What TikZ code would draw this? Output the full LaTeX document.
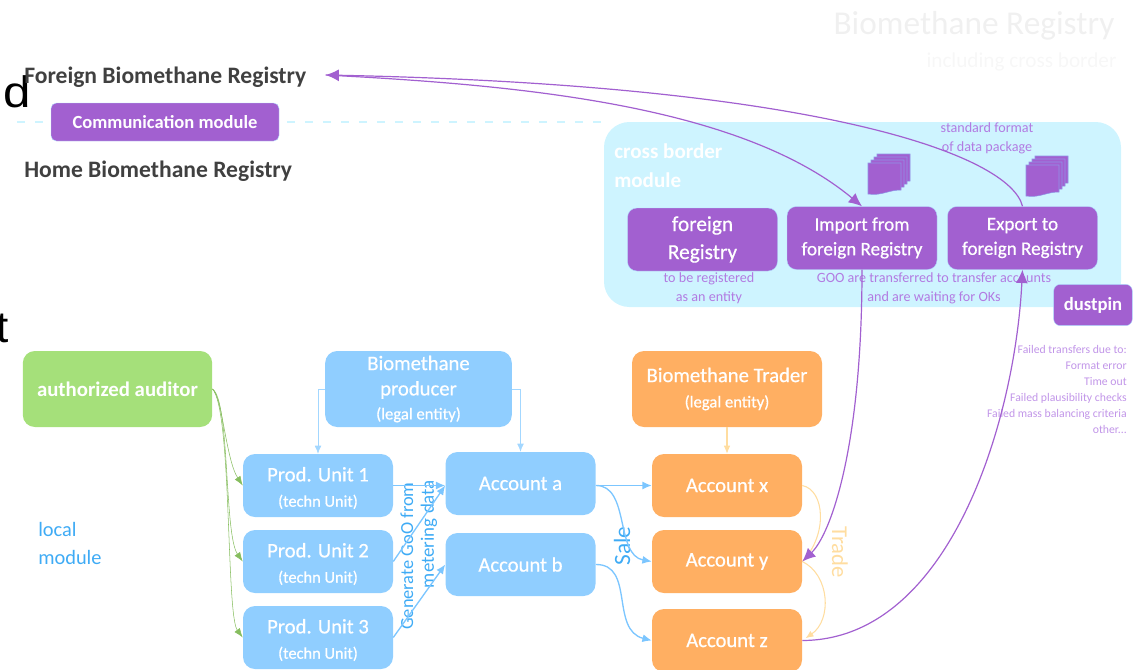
\documentclass[tikz,border=0pt]{standalone}
\usepackage{fontspec}
\setmainfont{Carlito}
\newfontfamily\arialfont{Liberation Sans}
\newfontfamily\semifont[FakeBold=0.6]{Carlito}
\usepackage{tikz}
\usetikzlibrary{arrows.meta}
\definecolor{regpurple}{HTML}{A260D0}
\definecolor{notepurple}{HTML}{B27BE2}
\definecolor{regblue}{HTML}{90CEFF}
\definecolor{linkblue}{HTML}{7CC6FF}
\definecolor{textblue}{HTML}{3FABF5}
\definecolor{regorange}{HTML}{FFAF62}
\definecolor{linkorange}{HTML}{FFDDA0}
\definecolor{reggreen}{HTML}{A5E07A}
\definecolor{linkgreen}{HTML}{86BD5E}
\definecolor{panelcyan}{HTML}{CEF4FF}
\definecolor{headgrey}{HTML}{404040}
\tikzset{
  box/.style={rounded corners=9pt,text=white,align=center,inner sep=0pt,minimum width=112.5pt,minimum height=47.25pt,font=\semifont\fontsize{15.5}{19}\selectfont},
  bluebox/.style={box,fill=regblue},
  orangebox/.style={box,fill=regorange},
  purplebox/.style={box,fill=regpurple,draw=linkblue!60,line width=.3pt,rounded corners=7pt,font=\semifont\fontsize{14.3}{18.5}\selectfont},
  heading/.style={inner sep=0pt,text=headgrey,align=flush left,font=\bfseries\fontsize{17.7}{21}\selectfont},
  note/.style={inner sep=0pt,text=notepurple,align=center,font=\fontsize{10.6}{14.2}\selectfont},
  bluelink/.style={-{Latex[length=7pt,width=6pt]},linkblue,line width=1pt},
  thinblue/.style={-{Latex[length=6pt,width=5pt]},linkblue!70,line width=.5pt},
  greenlink/.style={-{Latex[length=7pt,width=5pt]},linkgreen,line width=.4pt},
  orangelink/.style={-{Latex[length=6pt,width=5pt]},linkorange,line width=.8pt},
  purplelink/.style={-{Latex[length=10pt,width=9pt]},regpurple,line width=.9pt},
  docstack/.pic={
    \foreach \i in {3,2,1,0} {
      \draw[fill=regpurple,draw=linkblue!50!regpurple,line width=.4pt,shift={(\i*3,-\i*3)}]
        (0,0) -- (33,0) -- (33,27) .. controls (20,27) and (14,33) .. (0,31) -- cycle;
    }
  }
}
\begin{document}
\begin{tikzpicture}[x=.75pt,y=-.75pt]
  \clip (0,0) rectangle (1136,669);
  % top part
  \node at (974,26) [inner sep=0pt,text=black!6,font=\fontsize{25}{28}\selectfont] (title) {Biomethane Registry};
  \node at (1021.5,62) [inner sep=0pt,text=black!3,font=\fontsize{15.9}{18}\selectfont] (subtitle) {including cross border};
  \node at (3,107) [anchor=base west,inner sep=0pt,xscale=1.12,font=\arialfont\fontsize{33}{33}\selectfont] (cutd) {d};
  \node at (-4,342) [anchor=base west,inner sep=0pt,font=\arialfont\fontsize{33}{33}\selectfont] (cutt) {t};
  \node at (24,75) [anchor=west,heading,text width=225.75pt] (foreignreg) {\rule{0pt}{16pt}Foreign Biomethane Registry};
  \node at (24,171) [anchor=west,heading] (homereg) {Home Biomethane Registry};
  \coordinate (dashL) at (17,122);
  \node at (862.5,214.5) [fill=panelcyan,rounded corners=19pt,minimum width=387.75pt,minimum height=138.75pt] (xborder) {};
  \draw[panelcyan,line width=1.8pt,dash pattern=on 6pt off 7.5pt] (dashL) -- (xborder.north west |- dashL);
  \node at (165,122) [box,fill=regpurple,draw=linkblue!60,line width=.3pt,rounded corners=4pt,minimum width=171pt,minimum height=28.5pt,font=\bfseries\fontsize{13.9}{16}\selectfont] (comm) {Communication module};
  \node at (614,166) [anchor=west,inner sep=0pt,text=white,align=left,font=\bfseries\fontsize{15.8}{21.5}\selectfont] (xborderlabel) {cross border\\module};
  \node at (702.5,239.5) [purplebox,font=\semifont\fontsize{16}{21}\selectfont] (foreignbox) {foreign\\Registry};
  \node at (862,238) [purplebox] (importbox) {Import from\\foreign Registry};
  \node at (1022.5,238) [purplebox] (exportbox) {Export to\\foreign Registry};
  \node at (1093,305) [purplebox,rounded corners=5pt,minimum width=59pt,minimum height=31pt,font=\bfseries\fontsize{14}{18}\selectfont] (dustpin) {dustpin};
  \pic at (868,163) {docstack};
  \pic at (1026,165) {docstack};
  \node at (987,138.5) [note] (format) {standard format\\of data package};
  \node at (709,288.5) [note] (entity) {to be registered\\as an entity};
  \node at (934,288.5) [note] (waiting) {GOO are transferred to transfer accounts\\and are waiting for OKs};
  \node at (1127,389) [anchor=east,inner sep=0pt,text=notepurple!80,align=right,font=\fontsize{8.8}{12}\selectfont] (failed) {Failed transfers due to:\\Format error\\Time out\\Failed plausibility checks\\Failed mass balancing criteria\\other...};
  % local part
  \node at (38,543) [anchor=west,inner sep=0pt,text=textblue,align=left,font=\fontsize{15.3}{21}\selectfont] (localmodule) {local\\module};
  \node at (117.5,389) [box,fill=reggreen,minimum width=142pt,minimum height=57pt,font=\bfseries\fontsize{15.6}{19}\selectfont] (auditor) {authorized auditor};
  \node at (418.5,389) [bluebox,minimum width=140pt,minimum height=57pt] (producer) {Biomethane\\producer\\[-1pt]{\fontsize{12.5}{14}\selectfont(legal entity)}};
  \node at (727,389) [orangebox,minimum width=142.5pt,minimum height=57pt] (trader) {Biomethane Trader\\{\fontsize{12.5}{16}\selectfont(legal entity)}};
  \foreach \name/\ypos/\num in {unitone/485.5/1,unittwo/561.5/2,unitthree/637.5/3} {
    \node at (318,\ypos) [bluebox] (\name) {\rule{0pt}{14.5pt}Prod. Unit \num\\{\fontsize{12.3}{16}\selectfont(techn Unit)}};
  }
  \node at (520.5,483.5) [bluebox] (accounta) {Account a};
  \node at (520.5,564.5) [bluebox] (accountb) {Account b};
  \node at (727,485.5) [orangebox] (accountx) {Account x};
  \node at (727,561.5) [orangebox] (accounty) {Account y};
  \node at (727,640.5) [orangebox] (accountz) {Account z};
  \node at (407,556) [rotate=90,inner sep=0pt,text=textblue,font=\fontsize{13.8}{15}\selectfont] (generate) {Generate GoO from};
  \node at (429,534) [rotate=90,inner sep=0pt,text=textblue,font=\fontsize{14.2}{15}\selectfont] (metering) {metering data};
  \node at (622,546) [rotate=90,inner sep=0pt,text=textblue,font=\fontsize{17.5}{19}\selectfont] (sale) {Sale};
  \node at (840,552) [rotate=-90,inner sep=0pt,text=linkorange,font=\fontsize{17}{19}\selectfont] (trade) {Trade};
  % connections
  \draw[thinblue] (producer.west) -| (unitone.north);
  \draw[thinblue] (producer.east) -| (accounta.north);
  \draw[orangelink] (trader.south) -- (accountx.north);
  \draw[greenlink] (auditor.east) .. controls (222,395) and (226,460) .. (unitone.west);
  \draw[greenlink] (auditor.east) .. controls (230,400) and (224,535) .. (unittwo.west);
  \draw[greenlink] (auditor.east) .. controls (232,410) and (226,615) .. (unitthree.west);
  \draw[bluelink] (unitone.east) -- (accounta.west |- unitone.east);
  \draw[bluelink] (unittwo.east) -- (accounta.west |- unitone.east);
  \draw[bluelink] (unitthree.east) -- (accountb.west);
  \draw[bluelink] (accounta.east |- accountx.east) -- (accountx.west);
  \draw[bluelink] (accounta.east |- accountx.east) .. controls (630,485) and (615,555) .. (accounty.west);
  \draw[bluelink] (accountb.east) .. controls (635,564) and (610,630) .. (accountz.west);
  \draw[orangelink,-] (accountx.east) .. controls (825,490) and (828,535) .. (accounty.east);
  \draw[orangelink,shorten >=3pt] (accounty.east) .. controls (830,575) and (832,620) .. (accountz.east);
  \draw[purplelink] (foreignreg.east) .. controls (520,85) and (740,105) .. (importbox.north);
  \draw[purplelink] (exportbox.north) .. controls (1010,155) and (820,85) .. (foreignreg.east);
  \draw[purplelink] (importbox.south) .. controls (862,450) and (830,535) .. (accounty.east);
  \draw[purplelink] (accountz.east) .. controls (950,640) and (1015,420) .. (exportbox.south);
\end{tikzpicture}
\end{document}
